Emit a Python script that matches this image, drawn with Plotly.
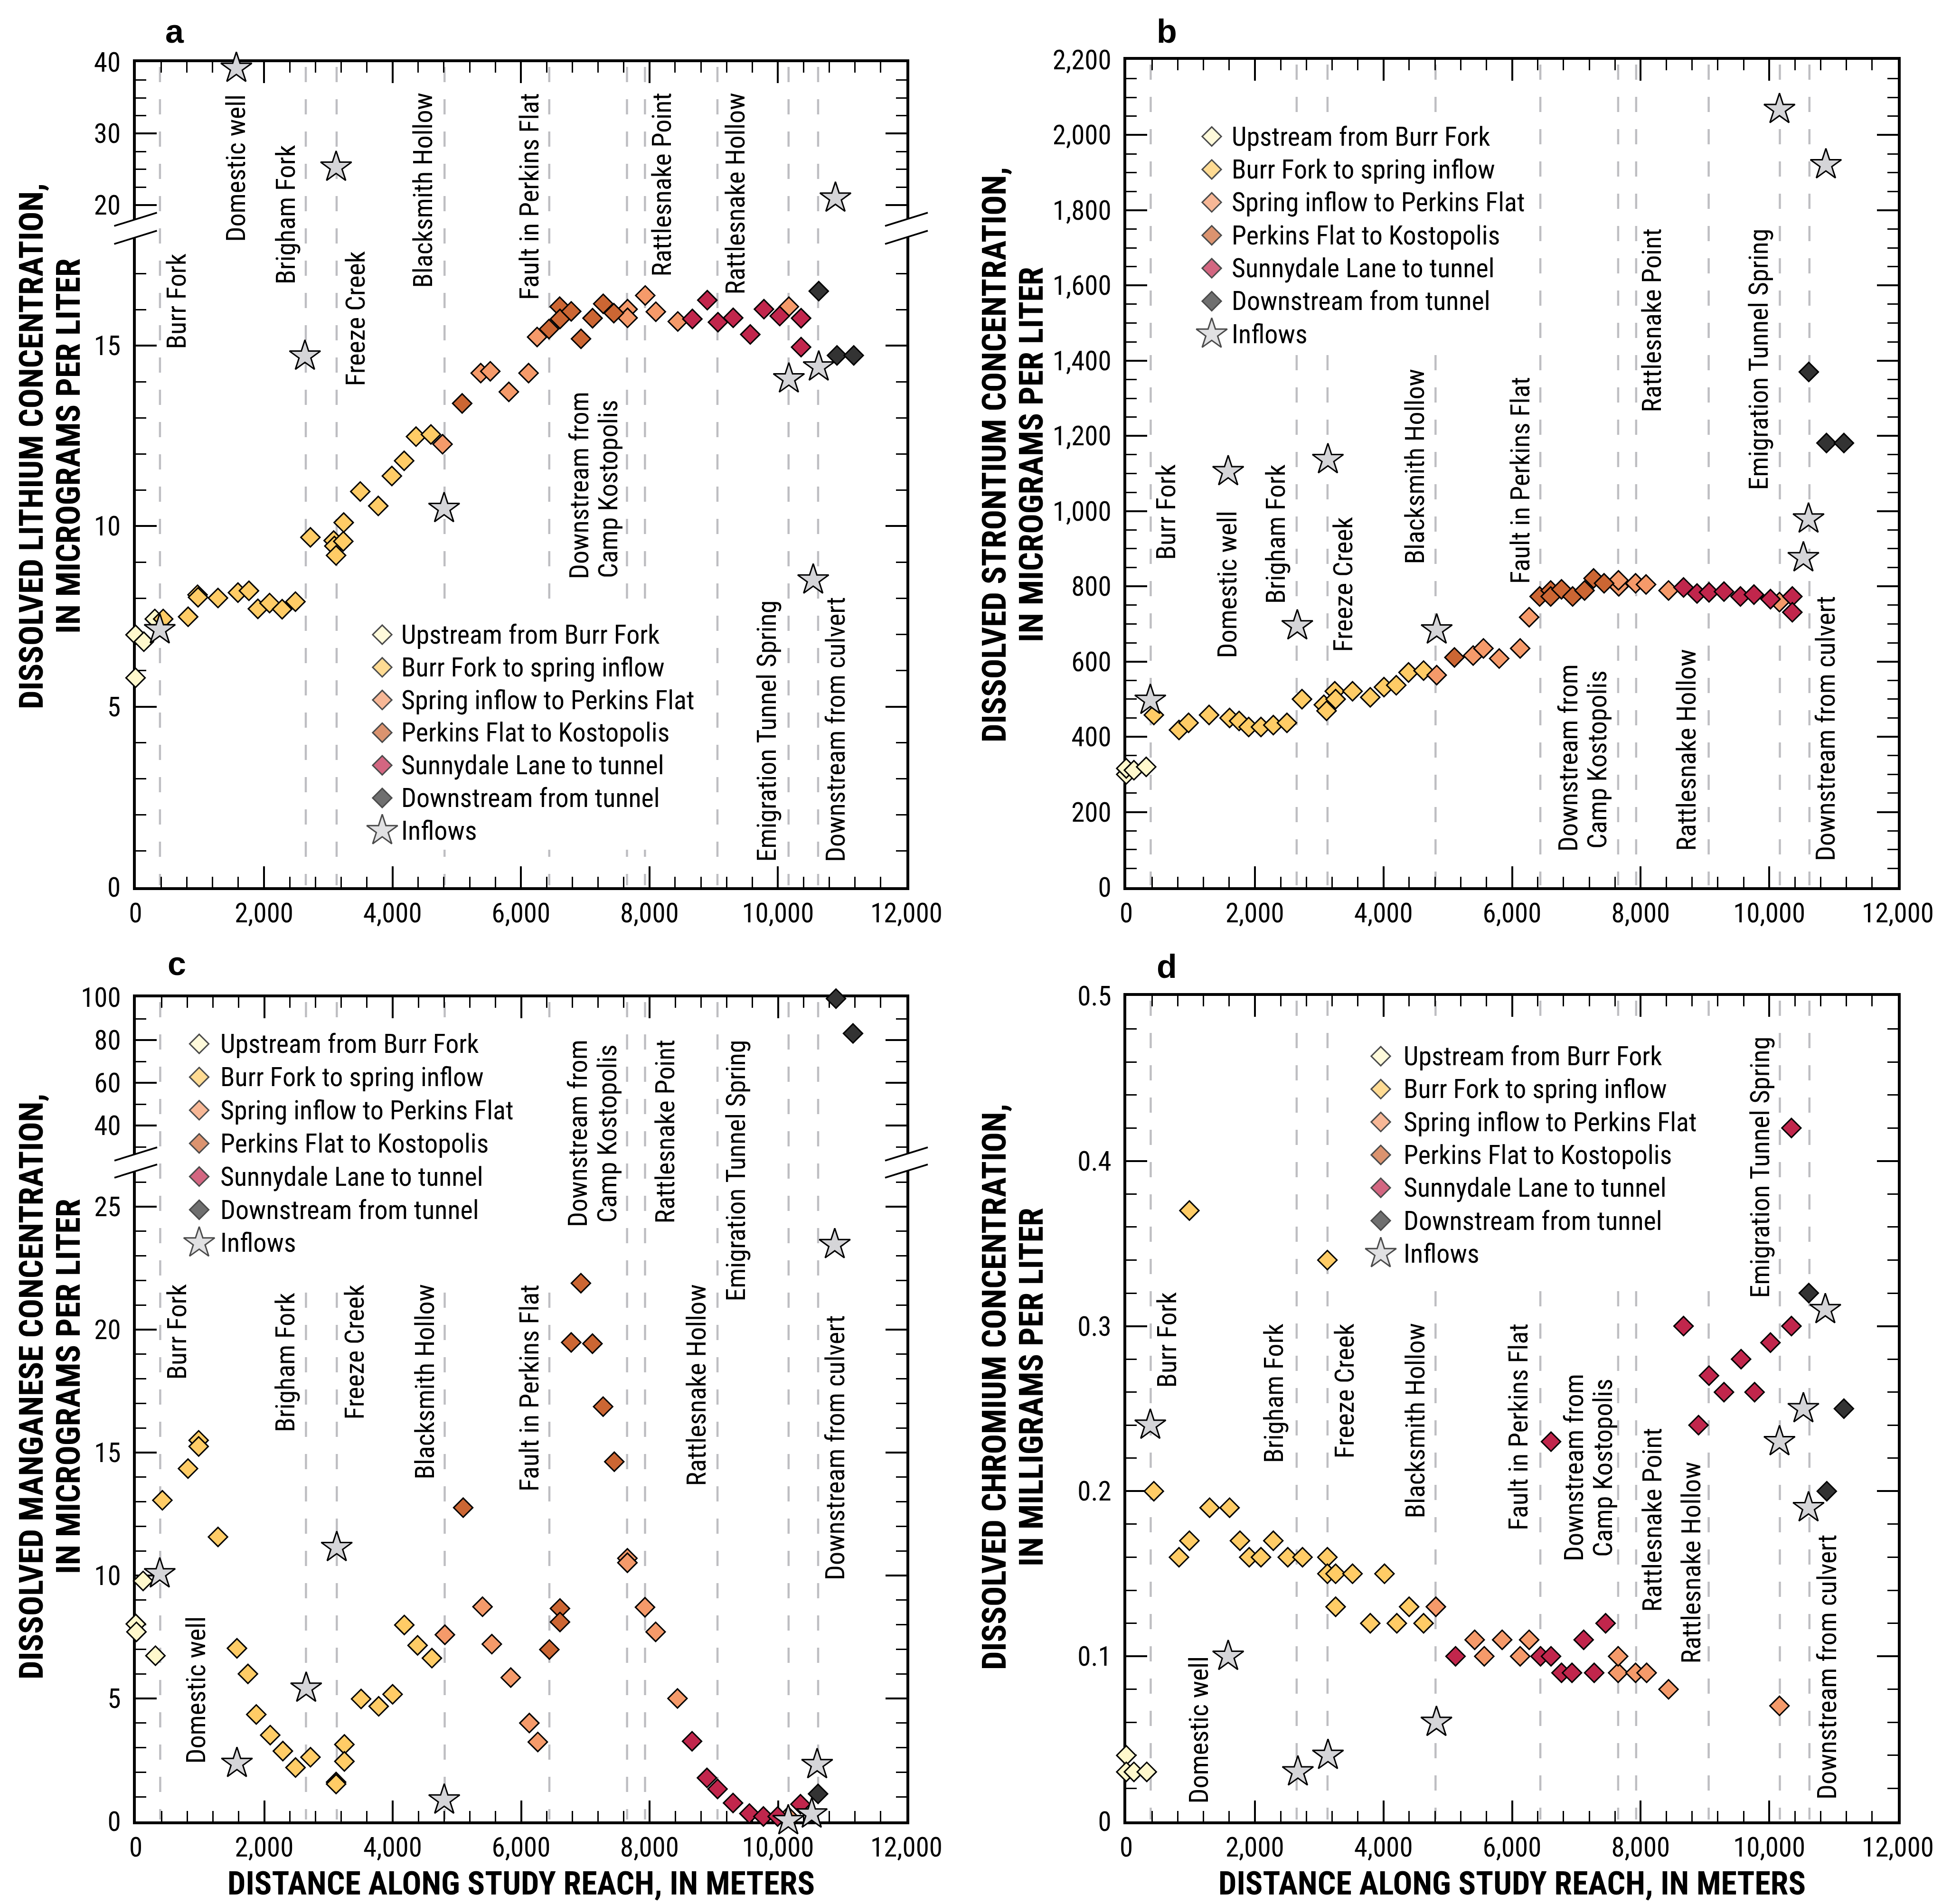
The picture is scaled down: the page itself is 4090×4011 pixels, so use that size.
import plotly.graph_objects as go

W, H = 4090, 4011
NARROW = "Liberation Sans Narrow, Arial Narrow, Roboto Condensed, DejaVu Sans Condensed, sans-serif"
WIDE = "Liberation Sans, Arial, Helvetica, sans-serif"

# ---------------------------------------------------------------- categories
GROUPS = ["Upstream from Burr Fork", "Burr Fork to spring inflow",
          "Spring inflow to Perkins Flat", "Perkins Flat to Kostopolis",
          "Sunnydale Lane to tunnel", "Downstream from tunnel", "Inflows"]
FILL = ["#FFF8CC", "#FFCC66", "#F59A6A", "#CC6633", "#C1264C", "#333333", "#D5D5D8"]
SYMBOL = ["diamond"] * 6 + ["star"]
SIZE = [31] * 6 + [49]

# landmarks along the study reach, metres
LANDMARK_M = [380, 2650, 3130, 4810, 6440, 7650, 7930, 9058, 10165, 10625]

# ---------------------------------------------------------------- (a) lithium, ug/L
li_up_x = [0, 129, 0, 300]
li_up_y = [6.99, 6.80, 5.80, 7.43]
li_burr_x = [430, 818, 965, 973, 1283, 1594, 1765, 1904, 2086, 2282, 2489, 2722, 3084,
             3095, 3121, 3234, 3240, 3498, 3778, 3990, 4181, 4366, 4598]
li_burr_y = [7.43, 7.49, 8.10, 8.03, 8.01, 8.16, 8.21, 7.71, 7.87, 7.70, 7.91, 9.69, 9.60,
             9.45, 9.19, 9.58, 10.10, 10.96, 10.56, 11.39, 11.81, 12.48, 12.54]
li_spring_x = [4779, 5373, 5522, 5811, 6118, 6251, 7659, 7659, 7934, 8099, 8441, 10170]
li_spring_y = [12.27, 14.24, 14.29, 13.72, 14.24, 15.24, 16.01, 15.77, 16.39, 15.94, 15.67, 16.08]
li_perk_x = [5084, 6436, 6602, 6607, 6782, 6934, 7114, 7280, 7445]
li_perk_y = [13.40, 15.46, 16.08, 15.74, 15.95, 15.19, 15.76, 16.16, 15.90]
li_sunny_x = [8668, 8900, 9066, 9303, 9569, 9782, 10028, 10360, 10360]
li_sunny_y = [15.74, 16.26, 15.65, 15.77, 15.31, 16.01, 15.82, 15.76, 14.96]
li_down_x = [10635, 10919, 11180]
li_down_y = [16.51, 14.73, 14.73]
li_in_x = [377, 1569, 2637, 3122, 4803, 10170, 10549, 10635, 10895]
li_in_y = [7.13, 39.15, 14.71, 25.3, 10.49, 14.08, 8.51, 14.41, 20.97]

# ---------------------------------------------------------------- (b) strontium, ug/L
sr_up_x = [0, 0, 119, 310]
sr_up_y = [300, 316, 311, 320]
sr_burr_x = [429, 820, 969, 1288, 1607, 1755, 1904, 2095, 2287, 2499, 2733, 3073, 3115,
             3243, 3256, 3519, 3795, 4008, 4199, 4390, 4624]
sr_burr_y = [458, 418, 437, 458, 450, 442, 426, 426, 431, 437, 500, 485, 469,
             521, 500, 521, 505, 532, 537, 571, 576]
sr_spring_x = [4828, 5395, 5555, 5800, 6126, 6266, 7660, 7655, 7921, 8084, 8434, 10159]
sr_spring_y = [564, 616, 635, 608, 635, 718, 800, 816, 808, 805, 789, 758]
sr_perk_x = [5104, 6429, 6601, 6601, 6769, 6942, 7128, 7268, 7431]
sr_perk_y = [611, 773, 789, 773, 792, 773, 789, 821, 808]
sr_sunny_x = [8667, 8877, 9063, 9296, 9552, 9762, 10019, 10359, 10359]
sr_sunny_y = [797, 781, 784, 786, 773, 778, 766, 773, 731]
sr_down_x = [10615, 10890, 11161]
sr_down_y = [1370, 1181, 1181]
sr_in_x = [374, 1585, 2660, 3136, 4828, 10159, 10881, 10611, 10531]
sr_in_y = [497, 1105, 695, 1137, 684, 2068, 1921, 979, 876]

# ---------------------------------------------------------------- (c) manganese, ug/L
mn_up_x = [0, 10, 114, 306]
mn_up_y = [8.03, 7.71, 9.78, 6.74]
mn_burr_x = [414, 813, 979, 979, 1280, 1575, 1746, 1876, 2093, 2290, 2487, 2720, 3119,
             3119, 3248, 3248, 3508, 3782, 3999, 4181, 4388, 4611]
mn_burr_y = [13.06, 14.35, 15.50, 15.25, 11.57, 7.04, 6.00, 4.35, 3.51, 2.86, 2.19, 2.61, 1.60,
             1.52, 3.13, 2.44, 4.98, 4.68, 5.17, 7.99, 7.16, 6.64]
mn_spring_x = [4813, 5399, 5544, 5839, 6128, 6260, 7655, 7655, 7929, 8095, 8435, 10160]
mn_spring_y = [7.59, 8.73, 7.21, 5.85, 4.00, 3.23, 10.70, 10.52, 8.71, 7.71, 5.00, 0.20]
mn_perk_x = [5098, 6440, 6605, 6605, 6780, 6931, 7111, 7277, 7451]
mn_perk_y = [12.76, 6.99, 8.66, 8.11, 19.48, 21.89, 19.43, 16.87, 14.63]
mn_sunny_x = [8662, 8894, 9059, 9300, 9555, 9773, 9995, 10350]
mn_sunny_y = [3.26, 1.77, 1.32, 0.75, 0.32, 0.20, 0.20, 0.70]
mn_down_x = [10624, 10903, 11168]
mn_down_y = [1.12, 99.4, 83.1]
mn_in_x = [373, 1575, 2653, 3129, 4803, 10160, 10525, 10610, 10884]
mn_in_y = [10.07, 2.36, 5.42, 11.14, 0.87, 0.03, 0.30, 2.31, 23.46]

# ---------------------------------------------------------------- (d) chromium, mg/L
cr_up_x = [0, 0, 119, 319]
cr_up_y = [0.04, 0.03, 0.03, 0.03]
cr_burr_x = [429, 820, 982, 982, 1296, 1607, 1768, 1912, 2095, 2287, 2512, 2741, 3128,
             3128, 3128, 3256, 3256, 3519, 3795, 4016, 4208, 4399, 4624]
cr_burr_y = [0.20, 0.16, 0.17, 0.37, 0.19, 0.19, 0.17, 0.16, 0.16, 0.17, 0.16, 0.16, 0.16,
             0.15, 0.34, 0.15, 0.13, 0.15, 0.12, 0.15, 0.12, 0.13, 0.12]
cr_spring_x = [4815, 5419, 5568, 5846, 6126, 6266, 7650, 7650, 7921, 8093, 8434, 10159]
cr_spring_y = [0.13, 0.11, 0.10, 0.11, 0.10, 0.11, 0.09, 0.10, 0.09, 0.09, 0.08, 0.07]
cr_perk_x = []
cr_perk_y = []
cr_sunny_x = [5121, 6443, 6606, 6606, 6769, 6932, 7114, 7277, 7455, 8667, 8900, 9063,
              9296, 9562, 9772, 10019, 10345, 10345]
cr_sunny_y = [0.10, 0.10, 0.10, 0.23, 0.09, 0.09, 0.11, 0.09, 0.12, 0.30, 0.24, 0.27,
              0.26, 0.28, 0.26, 0.29, 0.30, 0.42]
cr_down_x = [10615, 10895, 11161]
cr_down_y = [0.32, 0.20, 0.25]
cr_in_x = [374, 1585, 2669, 3137, 4824, 10159, 10531, 10611, 10872]
cr_in_y = [0.24, 0.10, 0.03, 0.04, 0.06, 0.23, 0.25, 0.19, 0.31]

X_TICKS = dict(range=[0, 12000], dtick=2000, tick0=0, tickformat=",d")
LABEL_SIZE = 56
TICK_SIZE = 57
TITLE_SIZE = 70


def fx(p):
    return p / W


def fy(p):
    return 1 - p / H


fig = go.Figure()

AXIS = dict(showgrid=False, zeroline=False, showline=True, linecolor="black", linewidth=6,
            ticks="inside", ticklen=44, tickwidth=3.5, tickcolor="black", automargin=False,
            tickfont=dict(family=NARROW, size=TICK_SIZE, color="black"), layer="below traces")


def minor(d):
    return dict(dtick=d, tick0=0, ticks="inside", ticklen=22, tickwidth=3, tickcolor="black",
                showgrid=False)


def add_series(xs, ys, gi, xa, ya):
    if not xs:
        return
    fig.add_trace(go.Scatter(
        x=xs, y=ys, mode="markers", xaxis=xa, yaxis=ya, name=GROUPS[gi],
        marker=dict(symbol=SYMBOL[gi], size=SIZE[gi], color=FILL[gi],
                    line=dict(color="black", width=3)),
        cliponaxis=False, showlegend=False, hoverinfo="skip"))


panels = [
    dict(letter="a", box=(285.5, 131, 1909, 1869), xa="x", ya="y", xa_hi="x2", ya_hi="y2",
         split=18.0, lower_top=500, upper_bottom=462,
         lower=dict(range=[0, 18], dtick=5, m=1), upper=dict(range=[18, 40], dtick=10, m=2.5),
         series=[(li_up_x, li_up_y), (li_burr_x, li_burr_y), (li_spring_x, li_spring_y),
                 (li_perk_x, li_perk_y), (li_sunny_x, li_sunny_y), (li_down_x, li_down_y),
                 (li_in_x, li_in_y)],
         letter_xy=(368, 66),
         ytitle=("DISSOLVED LITHIUM CONCENTRATION,", "IN MICROGRAMS PER LITER"),
         ytitle_x=(66, 144), ytitle_y=940, xtitle=False,
         legend=dict(key_x=805, text_x=844, y0=1337, dy=68.8), legend_box=(775, 1295, 1475, 1790),
         labels=[("Burr Fork", 372, 737, "bottom"), ("Domestic well", 496, 198, "top"),
                 ("Brigham Fork", 602, 600, "bottom"), ("Freeze Creek", 749, 815, "bottom"),
                 ("Blacksmith Hollow", 891, 195, "top"), ("Fault in Perkins Flat", 1115, 195, "top"),
                 ("Downstream from", 1220, 1023, "middle"), ("Camp Kostopolis", 1281, 1030, "middle"),
                 ("Rattlesnake Point", 1394, 195, "top"), ("Rattlesnake Hollow", 1549, 195, "top"),
                 ("Emigration Tunnel Spring", 1614, 1817, "bottom"),
                 ("Downstream from culvert", 1760, 1817, "bottom")]),
    dict(letter="b", box=(2372, 126, 3997, 1869), xa="x3", ya="y3",
         ax=dict(range=[0, 2200], dtick=200, m=50, fmt=",d"),
         series=[(sr_up_x, sr_up_y), (sr_burr_x, sr_burr_y), (sr_spring_x, sr_spring_y),
                 (sr_perk_x, sr_perk_y), (sr_sunny_x, sr_sunny_y), (sr_down_x, sr_down_y),
                 (sr_in_x, sr_in_y)],
         letter_xy=(2457, 66),
         ytitle=("DISSOLVED STRONTIUM CONCENTRATION,", "IN MICROGRAMS PER LITER"),
         ytitle_x=(2094, 2172), ytitle_y=958, xtitle=False,
         legend=dict(key_x=2552, text_x=2593, y0=287.5, dy=69.4), legend_box=(2515, 240, 3235, 740),
         labels=[("Burr Fork", 2455, 1181, "bottom"), ("Domestic well", 2584, 1388, "bottom"),
                 ("Brigham Fork", 2687, 1273, "bottom"), ("Freeze Creek", 2829, 1375, "bottom"),
                 ("Blacksmith Hollow", 2979, 1190, "bottom"),
                 ("Fault in Perkins Flat", 3202, 1231, "bottom"),
                 ("Downstream from", 3303, 1597, "middle"), ("Camp Kostopolis", 3364, 1600, "middle"),
                 ("Rattlesnake Point", 3478, 481, "top"), ("Rattlesnake Hollow", 3551, 1794, "bottom"),
                 ("Emigration Tunnel Spring", 3703, 481, "top"),
                 ("Downstream from culvert", 3845, 1815, "bottom")]),
    dict(letter="c", box=(286, 2101, 1909, 3837), xa="x4", ya="y4", xa_hi="x5", ya_hi="y5",
         split=26.45, lower_top=2467, upper_bottom=2431,
         lower=dict(range=[0, 26.45], dtick=5, m=1), upper=dict(range=[26.7, 100], dtick=20, m=10),
         series=[(mn_up_x, mn_up_y), (mn_burr_x, mn_burr_y), (mn_spring_x, mn_spring_y),
                 (mn_perk_x, mn_perk_y), (mn_sunny_x, mn_sunny_y), (mn_down_x, mn_down_y),
                 (mn_in_x, mn_in_y)],
         letter_xy=(372, 2030),
         ytitle=("DISSOLVED MANGANESE CONCENTRATION,", "IN MICROGRAMS PER LITER"),
         ytitle_x=(66, 144), ytitle_y=2921, xtitle=True,
         legend=dict(key_x=419.5, text_x=463, y0=2199, dy=69.9), legend_box=(395, 2150, 1175, 2690),
         labels=[("Burr Fork", 372, 2705, "top"), ("Domestic well", 412, 3717, "bottom"),
                 ("Brigham Fork", 601, 2722, "top"), ("Freeze Creek", 746, 2705, "top"),
                 ("Blacksmith Hollow", 894, 2705, "top"), ("Fault in Perkins Flat", 1115, 2705, "top"),
                 ("Downstream from", 1217, 2388, "middle"), ("Camp Kostopolis", 1279, 2388, "middle"),
                 ("Rattlesnake Point", 1400, 2190, "top"), ("Rattlesnake Hollow", 1466, 2705, "top"),
                 ("Emigration Tunnel Spring", 1549, 2190, "top"),
                 ("Downstream from culvert", 1759, 2770, "top")]),
    dict(letter="d", box=(2372, 2098, 3997, 3837), xa="x6", ya="y6",
         ax=dict(range=[0, 0.5], dtick=0.1, m=0.02, fmt=None),
         series=[(cr_up_x, cr_up_y), (cr_burr_x, cr_burr_y), (cr_spring_x, cr_spring_y),
                 (cr_perk_x, cr_perk_y), (cr_sunny_x, cr_sunny_y), (cr_down_x, cr_down_y),
                 (cr_in_x, cr_in_y)],
         letter_xy=(2457, 2036),
         ytitle=("DISSOLVED CHROMIUM CONCENTRATION,", "IN MILLIGRAMS PER LITER"),
         ytitle_x=(2094, 2172), ytitle_y=2922, xtitle=True,
         legend=dict(key_x=2908, text_x=2955, y0=2225, dy=69.3), legend_box=(2875, 2170, 3610, 2715),
         labels=[("Burr Fork", 2457, 2722, "top"), ("Domestic well", 2524, 3801, "bottom"),
                 ("Brigham Fork", 2683, 2787, "top"), ("Freeze Creek", 2831, 2787, "top"),
                 ("Blacksmith Hollow", 2980, 2787, "top"), ("Fault in Perkins Flat", 3198, 2787, "top"),
                 ("Downstream from", 3315, 3092, "middle"), ("Camp Kostopolis", 3376, 3092, "middle"),
                 ("Rattlesnake Point", 3479, 3008, "top"), ("Rattlesnake Hollow", 3561, 3079, "top"),
                 ("Emigration Tunnel Spring", 3706, 2183, "top"),
                 ("Downstream from culvert", 3848, 3792, "bottom")]),
]

layout = {}
shapes = []
annotations = []


def axis_name(ref):
    return ref.replace("x", "xaxis").replace("y", "yaxis")


DASH = dict(color="#BEBEC2", width=4.5, dash="32px,36px")

for p in panels:
    x0, top, x1, bottom = p["box"]
    xdom = [fx(x0), fx(x1)]
    broken = "split" in p

    # --- axes
    xa_name = axis_name(p["xa"])
    ya_name = axis_name(p["ya"])
    layout[xa_name] = dict(AXIS, domain=xdom, anchor=p["ya"], mirror=(False if broken else "ticks"),
                           minor=minor(400), ticklabelstandoff=0, **X_TICKS)
    if broken:
        lo, hi = p["lower"], p["upper"]
        layout[ya_name] = dict(AXIS, domain=[fy(bottom), fy(p["lower_top"])], anchor=p["xa"],
                               mirror="ticks", range=lo["range"], dtick=lo["dtick"], tick0=0,
                               minor=minor(lo["m"]), ticklabelstandoff=14)
        layout[axis_name(p["xa_hi"])] = dict(AXIS, domain=xdom, anchor=p["ya_hi"], side="top",
                                              showticklabels=False, minor=minor(400), **X_TICKS)
        layout[axis_name(p["ya_hi"])] = dict(AXIS, domain=[fy(p["upper_bottom"]), fy(top)],
                                              anchor=p["xa_hi"], mirror="ticks",
                                              range=hi["range"], dtick=hi["dtick"], tick0=0,
                                              minor=minor(hi["m"]), ticklabelstandoff=14)
    else:
        a = p["ax"]
        extra = {"tickformat": a["fmt"]} if a["fmt"] else {}
        layout[ya_name] = dict(AXIS, domain=[fy(bottom), fy(top)], anchor=p["xa"], mirror="ticks",
                               range=a["range"], dtick=a["dtick"], tick0=0, minor=minor(a["m"]),
                               ticklabelstandoff=14, **extra)

    # --- data
    for gi, (xs, ys) in enumerate(p["series"]):
        if broken:
            lo_pts = [(x, y) for x, y in zip(xs, ys) if y <= p["split"]]
            hi_pts = [(x, y) for x, y in zip(xs, ys) if y > p["split"]]
            add_series([q[0] for q in lo_pts], [q[1] for q in lo_pts], gi, p["xa"], p["ya"])
            add_series([q[0] for q in hi_pts], [q[1] for q in hi_pts], gi, p["xa_hi"], p["ya_hi"])
        else:
            add_series(xs, ys, gi, p["xa"], p["ya"])

    # --- dashed landmark lines
    for m in LANDMARK_M:
        shapes.append(dict(type="line", xref=p["xa"], yref="paper", x0=m, x1=m,
                           y0=fy(top + 10), y1=fy(bottom - 4), line=DASH, layer="below"))

    # --- white panel behind the legend block
    bx0, by0, bx1, by1 = p["legend_box"]
    shapes.append(dict(type="rect", xref="paper", yref="paper", x0=fx(bx0), x1=fx(bx1),
                       y0=fy(by1), y1=fy(by0), fillcolor="white", line=dict(width=0),
                       layer="below"))

    # --- axis break marks
    if broken:
        for ax_x in (x0, x1):
            for yc in (p["upper_bottom"], p["lower_top"]):
                shapes.append(dict(type="line", xref="paper", yref="paper",
                                   x0=fx(ax_x - 45), y0=fy(yc + 14), x1=fx(ax_x + 45), y1=fy(yc - 14),
                                   line=dict(color="black", width=3.5), layer="above"))

    # --- landmark labels
    for text, lx, ly, anc in p["labels"]:
        annotations.append(dict(x=fx(lx), y=fy(ly), xref="paper", yref="paper", text=text,
                                textangle=-90, showarrow=False, xanchor="center", yanchor=anc,
                                borderpad=0, font=dict(family=NARROW, size=LABEL_SIZE, color="black")))

    # --- legend text
    lg = p["legend"]
    for i, g in enumerate(GROUPS):
        annotations.append(dict(x=fx(lg["text_x"]), y=fy(lg["y0"] + i * lg["dy"]), xref="paper",
                                yref="paper", text=g, showarrow=False, xanchor="left",
                                yanchor="middle", borderpad=0,
                                font=dict(family=NARROW, size=LABEL_SIZE, color="black")))

    # --- panel letter
    annotations.append(dict(x=fx(p["letter_xy"][0]), y=fy(p["letter_xy"][1]), xref="paper",
                            yref="paper", text="<b>%s</b>" % p["letter"], showarrow=False,
                            xanchor="center", yanchor="middle",
                            font=dict(family=WIDE, size=70, color="black")))

    # --- y-axis title, two lines
    for line_text, tx in zip(p["ytitle"], p["ytitle_x"]):
        annotations.append(dict(x=fx(tx), y=fy(p["ytitle_y"]), xref="paper", yref="paper",
                                text="<b>%s</b>" % line_text, textangle=-90, showarrow=False,
                                xanchor="center", yanchor="middle",
                                font=dict(family=NARROW, size=TITLE_SIZE, color="black")))
    if p["xtitle"]:
        annotations.append(dict(x=(xdom[0] + xdom[1]) / 2, y=0.0005, xref="paper", yref="paper",
                                text="<b>DISTANCE ALONG STUDY REACH, IN METERS</b>",
                                showarrow=False, xanchor="center", yanchor="bottom", borderpad=0,
                                font=dict(family=NARROW, size=68, color="black")))

# legend keys, drawn on a full-figure pixel axis
key_x, key_y, key_s, key_sz, key_c = [], [], [], [], []
for p in panels:
    lg = p["legend"]
    for i in range(len(GROUPS)):
        key_x.append(lg["key_x"])
        key_y.append(lg["y0"] + i * lg["dy"])
        key_s.append(SYMBOL[i])
        key_sz.append(SIZE[i])
        key_c.append(FILL[i])
fig.add_trace(go.Scatter(x=key_x, y=key_y, mode="markers", xaxis="x7", yaxis="y7",
                         marker=dict(symbol=key_s, size=key_sz, color=key_c,
                                     line=dict(color="black", width=3)),
                         cliponaxis=False, showlegend=False, hoverinfo="skip"))
layout["xaxis7"] = dict(domain=[0, 1], range=[0, W], visible=False, anchor="y7",
                        fixedrange=True, automargin=False)
layout["yaxis7"] = dict(domain=[0, 1], range=[H, 0], visible=False, anchor="x7",
                        fixedrange=True, automargin=False)

fig.update_layout(
    template="none",
    width=W, height=H, autosize=False,
    margin=dict(l=0, r=0, t=0, b=0, pad=0, autoexpand=False),
    paper_bgcolor="white", plot_bgcolor="rgba(0,0,0,0)",
    showlegend=False, shapes=shapes, annotations=annotations,
    **layout)

fig.write_html("out.html")
